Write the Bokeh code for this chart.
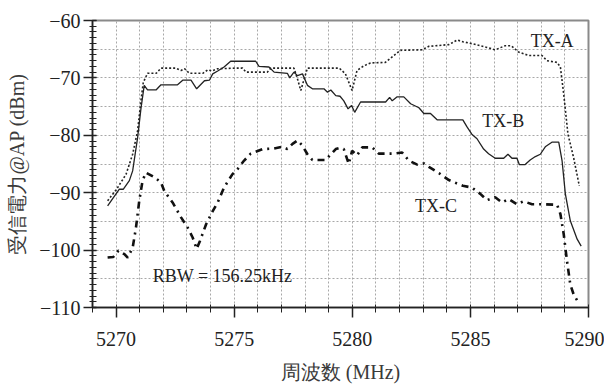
from bokeh.plotting import figure
from bokeh.models import Range1d, FixedTicker, SingleIntervalTicker, Label
from bokeh.embed import file_html
from bokeh.resources import INLINE

# ---- data ----
txa_f = [5269.64, 5270.02, 5270.42, 5270.70, 5270.91, 5271.05, 5271.15, 5271.33, 5271.70, 5271.90,
         5272.53, 5272.75, 5272.90, 5273.10, 5273.67, 5273.88, 5274.06, 5274.30, 5275.06, 5275.35,
         5275.50, 5276.40, 5276.55, 5277.53, 5277.68, 5277.82, 5277.96, 5278.10, 5279.45, 5279.71,
         5279.99, 5280.20, 5280.49, 5280.77, 5281.40, 5282.04, 5282.96, 5283.24, 5284.09, 5284.44,
         5284.68, 5285.13, 5285.70, 5286.05, 5286.47, 5286.73, 5287.04, 5287.47, 5288.03, 5288.24,
         5288.67, 5288.81, 5288.95, 5289.13, 5289.37, 5289.61]
txa_db = [-91.4, -89.4, -86.8, -83.3, -79.2, -74.0, -70.8, -69.2, -69.2, -68.3,
          -68.3, -68.7, -68.4, -69.2, -69.2, -68.6, -68.8, -68.4, -68.3, -68.3,
          -69.0, -69.0, -68.3, -68.3, -70.2, -72.2, -70.2, -68.3, -68.3, -69.3,
          -72.2, -68.7, -67.9, -67.4, -67.3, -65.2, -65.1, -64.5, -64.2, -63.4,
          -63.7, -64.1, -64.7, -65.1, -64.4, -64.4, -65.5, -66.1, -66.1, -67.0,
          -67.3, -68.1, -72.8, -79.8, -83.9, -88.8]

txb_f = [5269.64, 5270.13, 5270.30, 5270.56, 5270.70, 5270.91, 5271.05, 5271.19, 5271.33, 5271.69,
         5271.90, 5272.60, 5272.82, 5273.17, 5273.41, 5273.74, 5273.95, 5274.09, 5274.30, 5274.57,
         5274.85, 5275.91, 5276.05, 5276.47, 5276.69, 5277.25, 5277.35, 5277.53, 5277.68, 5277.89,
         5278.10, 5278.31, 5278.80, 5278.95, 5279.09, 5279.30, 5279.48, 5279.64, 5279.82, 5279.97,
         5280.10, 5280.35, 5281.41, 5281.58, 5281.69, 5281.90, 5282.18, 5282.47, 5282.82, 5283.03,
         5283.31, 5283.59, 5284.68, 5284.85, 5285.06, 5285.28, 5285.56, 5285.77, 5286.05, 5286.41,
         5286.59, 5286.76, 5286.97, 5287.07, 5287.32, 5287.53, 5287.75, 5287.96, 5288.17, 5288.45,
         5288.74, 5288.88, 5289.02, 5289.23, 5289.52, 5289.69]
txb_db = [-92.3, -89.4, -89.4, -87.9, -86.2, -80.4, -75.4, -71.3, -72.1, -72.1,
          -71.2, -71.2, -70.4, -70.4, -71.9, -70.5, -70.4, -69.3, -68.8, -68.1,
          -67.1, -67.1, -68.0, -68.1, -69.0, -69.2, -70.0, -69.0, -69.6, -69.3,
          -71.3, -71.9, -71.9, -72.5, -72.1, -73.1, -73.2, -74.0, -75.4, -74.8,
          -76.0, -74.2, -74.2, -73.4, -74.0, -73.3, -73.3, -74.5, -75.2, -76.2,
          -76.2, -77.3, -77.3, -78.5, -79.8, -80.6, -82.4, -83.2, -84.0, -84.0,
          -83.3, -84.0, -84.0, -85.1, -85.1, -84.3, -83.7, -83.3, -82.0, -81.2,
          -81.2, -84.4, -90.2, -94.9, -98.1, -99.3]

txc_f = [5269.64, 5269.88, 5270.10, 5270.35, 5270.49, 5270.70, 5270.84, 5270.98, 5271.12, 5271.26,
         5271.62, 5271.90, 5272.04, 5272.39, 5272.75, 5273.03, 5273.24, 5273.41, 5273.55, 5273.81,
         5274.09, 5274.30, 5274.57, 5274.92, 5275.14, 5275.42, 5275.70, 5276.20, 5276.69, 5277.04,
         5277.25, 5277.47, 5277.68, 5277.89, 5278.10, 5278.31, 5278.88, 5279.09, 5279.30, 5279.47,
         5279.64, 5279.85, 5279.99, 5280.20, 5280.42, 5280.84, 5281.12, 5281.76, 5282.11, 5282.39,
         5282.75, 5283.03, 5283.24, 5283.67, 5284.09, 5284.44, 5284.68, 5285.06, 5285.42, 5285.70,
         5286.05, 5286.34, 5286.62, 5286.97, 5287.25, 5287.61, 5288.03, 5288.67, 5288.81, 5288.95,
         5289.09, 5289.23, 5289.37, 5289.61]
txc_db = [-101.3, -101.2, -100.1, -100.7, -101.3, -99.6, -96.1, -91.4, -87.9, -86.5,
          -87.3, -88.2, -89.7, -91.7, -94.3, -96.1, -97.8, -99.8, -98.4, -95.5,
          -93.2, -91.7, -89.1, -86.8, -85.9, -84.4, -83.2, -82.4, -82.3, -82.0,
          -82.4, -81.5, -80.9, -81.8, -83.3, -84.3, -84.3, -83.3, -82.4, -82.2,
          -82.4, -85.0, -82.7, -83.5, -82.1, -82.1, -83.2, -83.2, -83.0, -84.4,
          -85.1, -84.9, -85.5, -86.6, -87.8, -88.4, -88.8, -89.1, -90.2, -91.3,
          -90.8, -91.7, -91.1, -92.0, -91.5, -92.0, -92.0, -92.1, -93.7, -97.2,
          -101.9, -106.0, -107.7, -109.4]

x_major = [5270, 5275, 5280, 5285, 5290]
y_major = [-110, -100, -90, -80, -70, -60]
series_names = ["TX-A", "TX-B", "TX-C"]
note_text = "RBW = 156.25kHz"

SERIF = "Liberation Serif"
p = figure(width=604, height=388, output_backend="svg", toolbar_location=None,
           x_range=Range1d(5269, 5290), y_range=Range1d(-110, -60),
           min_border_left=92, min_border_right=16, min_border_top=20, min_border_bottom=81)
p.background_fill_color = "white"
p.border_fill_color = "white"
p.outline_line_color = "#8a8a8a"
p.outline_line_width = 2

# grid
p.xgrid.ticker = SingleIntervalTicker(interval=1)
p.ygrid.ticker = SingleIntervalTicker(interval=5)
for g in (p.xgrid, p.ygrid):
    g.grid_line_color = "#a8a8a8"
    g.grid_line_dash = "2 2"
    g.grid_line_width = 1

# axes
p.xaxis.ticker = FixedTicker(ticks=x_major, minor_ticks=list(range(5269, 5291)))
p.yaxis.ticker = FixedTicker(ticks=y_major, minor_ticks=list(range(-110, -59)))
for ax in (p.xaxis, p.yaxis):
    ax.axis_line_color = "#222222"
    ax.axis_line_width = 1.5
    ax.major_tick_line_color = "#222222"
    ax.minor_tick_line_color = "#222222"
    ax.major_tick_line_width = 1.5
    ax.major_label_text_font = SERIF
    ax.major_label_text_font_size = "20px"
    ax.major_label_text_color = "#222222"
    ax.axis_label_text_font = SERIF
    ax.axis_label_text_font_size = "20px"
    ax.axis_label_text_font_style = "normal"
    ax.axis_label_text_color = "#3a3a3a"

p.xaxis.major_tick_in = 0
p.xaxis.major_tick_out = 10
p.xaxis.minor_tick_in = 3
p.xaxis.minor_tick_out = 5
p.xaxis.major_label_standoff = 14
p.xaxis.axis_label = "周波数 (MHz)"
p.xaxis.axis_label_standoff = 12

p.yaxis.major_tick_in = 4
p.yaxis.major_tick_out = 9
p.yaxis.minor_tick_in = 4
p.yaxis.minor_tick_out = 3
p.yaxis.major_label_standoff = 3
p.yaxis.axis_label = "受信電力@AP (dBm)"
p.yaxis.axis_label_standoff = 8

# series
p.line(txa_f, txa_db, line_color="#222222", line_width=1.6, line_dash="2 2")
p.line(txb_f, txb_db, line_color="#222222", line_width=1.3)
p.line(txc_f, txc_db, line_color="#111111", line_width=2.6, line_dash="7 5 2 5")

# annotations
label_pos = [(5287.55, -63.5), (5285.5, -77.5), (5282.65, -92.3)]
for name, (lx, ly) in zip(series_names, label_pos):
    p.add_layout(Label(x=lx, y=ly, text=name, text_font=SERIF, text_font_size="18px",
                       text_color="#222222", text_baseline="middle", text_align="left"))
p.add_layout(Label(x=5271.55, y=-104.5, text=note_text, text_font=SERIF, text_font_size="18px",
                   text_color="#222222", text_baseline="middle", text_align="left"))

open("out.html", "w").write(file_html(p, INLINE))
